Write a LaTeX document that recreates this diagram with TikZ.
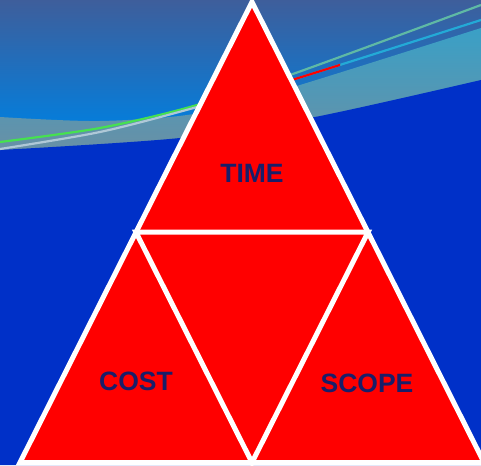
\documentclass[tikz,border=0pt]{standalone}
\usepackage{fontspec}
\setmainfont{Liberation Sans}
\usetikzlibrary{calc}
\definecolor{bgblue}{RGB}{0,48,200}
\definecolor{skytop}{RGB}{62,94,155}
\definecolor{skylow}{RGB}{0,128,224}
\definecolor{bandtop}{RGB}{58,160,198}
\definecolor{bandlow}{RGB}{110,142,162}
\definecolor{navy}{RGB}{25,30,105}
\definecolor{trired}{RGB}{255,0,0}
\definecolor{lgreen}{RGB}{70,225,80}
\definecolor{lpale}{RGB}{175,200,215}
\definecolor{lteal}{RGB}{95,185,165}
\definecolor{lcyan}{RGB}{35,170,215}
\tikzset{
  side/.style={white, line width=5pt, line join=miter},
  lbl/.style={text=navy, font=\fontsize{26.5}{30}\selectfont\bfseries},
  streak/.style={line width=2.2pt}
}

\begin{document}
\begin{tikzpicture}[x=1pt,y=1pt]
\useasboundingbox (0,0) rectangle (481,465);
\clip (0,0) rectangle (481,465);
% background
\fill [bgblue] (0,0) rectangle (481,465);
\shade [top color=skytop, bottom color=skylow] (0,330) rectangle (481,465);
\shade [top color=bandtop, bottom color=bandlow] plot[smooth] coordinates {(0,348) (100,344) (200,352) (300,380) (481,437)} -- (481,300) -- (0,300) -- cycle;
\fill [bgblue] (0,0) -- (481,0) -- plot[smooth] coordinates {(481,385) (315,348) (180,327) (0,315)} -- cycle;
% streaks
\begin{scope}
\clip (0,0) rectangle (252,465);
\draw [streak, lgreen] plot[smooth] coordinates {(0,323) (100,337) (190,358) (290,390) (481,460)};
\draw [streak, lpale] plot[smooth] coordinates {(0,316) (100,333) (190,356) (295,386) (481,445)};
\end{scope}
\begin{scope}
\clip (252,0) rectangle (481,465);
\draw [streak, lteal] plot[smooth] coordinates {(0,323) (100,337) (190,358) (290,390) (481,460)};
\draw [streak, lcyan] plot[smooth] coordinates {(0,316) (100,333) (190,356) (295,386) (481,445)};
\end{scope}
\begin{scope}
\clip (252,0) rectangle (340,465);
\draw [streak, red] plot[smooth] coordinates {(0,316) (100,333) (190,356) (295,386) (481,445)};
\end{scope}
% triangles
\coordinate (top) at (252,463);
\coordinate (bl) at (20,2.5);
\coordinate (br) at (484,2.5);
\coordinate (ml) at ($(top)!0.5!(bl)$);
\coordinate (mr) at ($(top)!0.5!(br)$);
\coordinate (mb) at ($(bl)!0.5!(br)$);
\fill [trired] (top) -- (bl) -- (br) -- cycle;
\draw [side] (top) -- (bl) -- (br) -- cycle;
\draw [side] (ml) -- (mr) -- (mb) -- cycle;
\node [lbl] (time) at (252,292) {TIME};
\node [lbl] (cost) at (136,84) {COST};
\node [lbl] (scope) at (367,82) {SCOPE};
\end{tikzpicture}
\end{document}
